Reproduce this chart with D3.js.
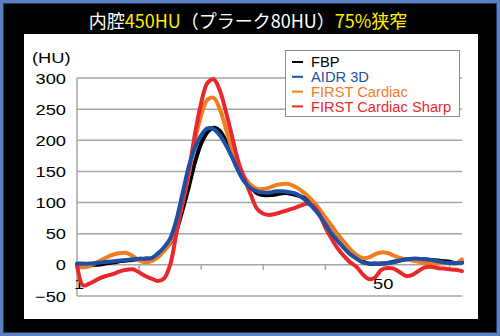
<!DOCTYPE html>
<html>
<head>
<meta charset="utf-8">
<script src="https://cdn.jsdelivr.net/npm/d3@7"></script>
<style>
  html, body { margin: 0; padding: 0; background: #000; }
  svg { display: block; }
</style>
</head>
<body>
<svg id="chart" width="500" height="336"></svg>
<script>
// Position index along the profile (1..63)
const positions = d3.range(1, 64);

// CT value (HU) along the profile for each reconstruction
const fbp = [0, -1, -1, 0, 1, 3, 4, 6, 7, 8, 9, 10, 10, 14, 24, 35, 55, 88, 125, 165,
  195, 213, 220, 215, 198, 178, 157, 138, 125, 115, 112, 112, 113, 115, 115, 113, 110, 105, 97, 87,
  75, 62, 48, 36, 24, 14, 6, 2, 2, 2, 3, 5, 7, 9, 9, 9, 9, 8, 7, 6,
  5, 3, 4];
const aidr3d = [2, 2, 2, 3, 4, 5, 6, 7, 8, 9, 10, 10, 11, 18, 28, 42, 72, 115, 158, 188,
  208, 219, 218, 208, 192, 172, 150, 133, 123, 118, 116, 116, 118, 118, 117, 115, 110, 102, 92, 80,
  65, 50, 38, 27, 17, 10, 4, 2, 2, 2, 3, 4, 7, 9, 10, 10, 9, 8, 6, 4,
  3, 3, 3];
const firstCardiac = [-3, -4, -2, 3, 8, 13, 17, 19, 19, 14, 7, 4, 6, 12, 22, 36, 62, 100, 145, 200,
  240, 265, 268, 250, 218, 185, 160, 140, 128, 122, 122, 124, 128, 130, 130, 126, 120, 112, 102, 90,
  76, 62, 48, 36, 25, 16, 11, 12, 17, 20, 19, 15, 11, 9, 7, 5, 3, 2, 2, 3,
  3, 2, 9];
const firstCardiacSharp = [0, -33, -30, -25, -20, -17, -14, -10, -8, -7, -12, -18, -22, -26, -22, 0, 50, 100, 150, 210,
  260, 292, 298, 280, 245, 205, 165, 138, 112, 90, 82, 80, 82, 85, 88, 91, 95, 98, 95, 82,
  60, 42, 26, 14, 4, -3, -15, -23, -20, -8, -5, -6, -12, -18, -16, -10, -4, -3, -5, -6,
  -7, -8, -10];

const seriesNames = ["FBP", "AIDR 3D", "FIRST Cardiac", "FIRST Cardiac Sharp"];
const seriesColors = ["#000000", "#1d4fa6", "#f07d1f", "#e8282c"];
const seriesValues = [fbp, aidr3d, firstCardiac, firstCardiacSharp];

const yTicks = [300, 250, 200, 150, 100, 50, 0, -50];
const xLabels = [1, 50];
const xTickPositions = [1, 11, 21, 31, 41, 51, 61];

const svg = d3.select("#chart");

// Frame: blue border, black matte, white chart panel
svg.append("rect").attr("x", 0).attr("y", 0).attr("width", 500).attr("height", 336).attr("fill", "#5b7fc2");
svg.append("rect").attr("x", 3).attr("y", 3).attr("width", 494).attr("height", 330).attr("fill", "#263a63");
svg.append("rect").attr("x", 4).attr("y", 4).attr("width", 492).attr("height", 328).attr("fill", "#000");
svg.append("rect").attr("x", 24).attr("y", 34).attr("width", 454).attr("height", 285).attr("fill", "#fff");

// Title
const title = svg.append("text")
  .attr("x", 248).attr("y", 28)
  .attr("text-anchor", "middle")
  .attr("font-family", "'Noto Sans CJK JP', sans-serif")
  .attr("font-size", 18);
[["内腔", "#ffffff"], ["450HU", "#ffee00"], ["（プラーク80HU）", "#ffffff"], ["75%狭窄", "#ffee00"]]
  .forEach(([t, c]) => title.append("tspan").attr("fill", c).text(t));

const x = d3.scaleLinear().domain([1, 63]).range([77, 462]);
const y = d3.scaleLinear().domain([-50, 300]).range([296, 78]);

const labelFont = "'Liberation Sans', Arial, sans-serif";

// Horizontal gridlines
svg.append("g")
  .selectAll("line")
  .data(yTicks)
  .join("line")
  .attr("x1", x(1)).attr("x2", x(63))
  .attr("y1", d => y(d)).attr("y2", d => y(d))
  .attr("stroke", "#a6a6a6").attr("stroke-width", 1.5);

// Value axis line
svg.append("line")
  .attr("x1", x(1)).attr("x2", x(1))
  .attr("y1", y(300)).attr("y2", y(-50))
  .attr("stroke", "#a6a6a6").attr("stroke-width", 1.5);

// Category tick marks on the zero line
svg.append("g")
  .selectAll("line")
  .data(xTickPositions)
  .join("line")
  .attr("x1", d => x(d)).attr("x2", d => x(d))
  .attr("y1", y(0)).attr("y2", y(0) + 5)
  .attr("stroke", "#a6a6a6").attr("stroke-width", 1.5);

// Y tick labels (wide lettering)
svg.append("g")
  .selectAll("text")
  .data(yTicks)
  .join("text")
  .attr("transform", d => `translate(66,${y(d) + 5.5}) scale(1.22,1)`)
  .attr("text-anchor", "end")
  .attr("font-family", labelFont)
  .attr("font-size", 15)
  .attr("fill", "#000")
  .text(d => d < 0 ? "−" + Math.abs(d) : d);

// Unit label
svg.append("text")
  .attr("transform", "translate(32,63) scale(1.22,1)")
  .attr("font-family", labelFont)
  .attr("font-size", 15)
  .attr("fill", "#000")
  .text("(HU)");

// Category labels
svg.append("g")
  .selectAll("text")
  .data(xLabels)
  .join("text")
  .attr("transform", d => `translate(${x(d) + 2},289) scale(1.22,1)`)
  .attr("text-anchor", "middle")
  .attr("font-family", labelFont)
  .attr("font-size", 15)
  .attr("fill", "#000")
  .text(d => d);

// Profile lines
const line = d3.line()
  .x((d, i) => x(positions[i]))
  .y(d => y(d))
  .curve(d3.curveCatmullRom.alpha(0.5));

const drawOrder = [0, 2, 3, 1];
svg.append("g")
  .selectAll("path")
  .data(drawOrder)
  .join("path")
  .attr("d", k => line(seriesValues[k]))
  .attr("fill", "none")
  .attr("stroke", k => seriesColors[k])
  .attr("stroke-width", 4)
  .attr("stroke-linejoin", "round")
  .attr("stroke-linecap", "round");

// Legend
const legend = svg.append("g").attr("transform", "translate(285,50)");
legend.append("rect")
  .attr("x", 0.5).attr("y", 0.5).attr("width", 174).attr("height", 66)
  .attr("fill", "#fff").attr("stroke", "#8c8c8c").attr("stroke-width", 1);
seriesNames.forEach((name, i) => {
  const cy = 12 + i * 14.8;
  legend.append("line")
    .attr("x1", 7).attr("x2", 18).attr("y1", cy).attr("y2", cy)
    .attr("stroke", seriesColors[i]).attr("stroke-width", 2);
  legend.append("text")
    .attr("x", 26).attr("y", cy + 5.2)
    .attr("font-family", labelFont)
    .attr("font-size", 14.7)
    .attr("fill", seriesColors[i])
    .text(name);
});
</script>
</body>
</html>
